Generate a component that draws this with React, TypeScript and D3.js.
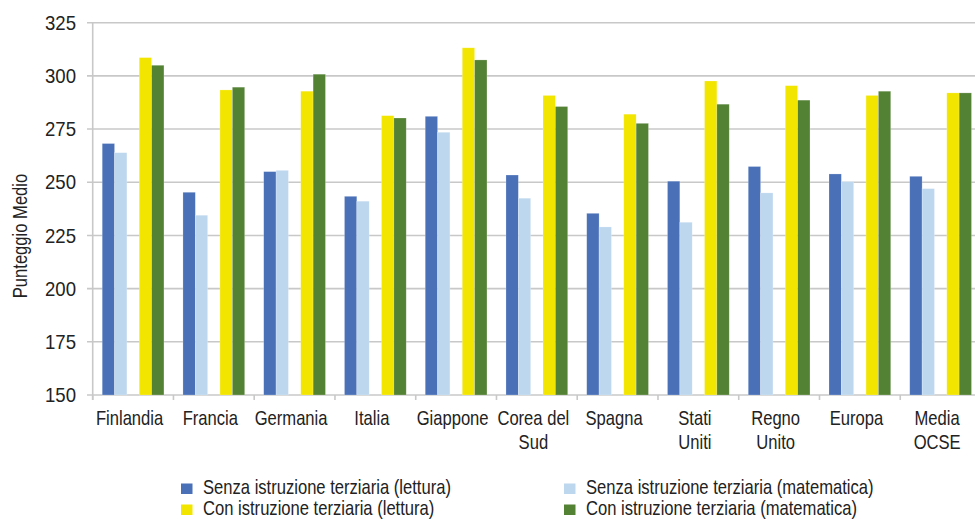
import React from "react";
import * as d3 from "d3";

const categories: string[][] = [
  ["Finlandia"], ["Francia"], ["Germania"], ["Italia"], ["Giappone"],
  ["Corea del", "Sud"], ["Spagna"], ["Stati", "Uniti"], ["Regno", "Unito"], ["Europa"], ["Media", "OCSE"],
];
const seriesNames = [
  "Senza istruzione terziaria (lettura)",
  "Senza istruzione terziaria (matematica)",
  "Con istruzione terziaria (lettura)",
  "Con istruzione terziaria (matematica)",
];
const senzaLettura = [268.2, 245.3, 255.0, 243.4, 281.0, 253.4, 235.4, 250.5, 257.4, 253.9, 252.8];
const senzaMatematica = [263.9, 234.5, 255.6, 241.1, 273.5, 242.5, 229.0, 231.2, 245.0, 250.3, 247.0];
const conLettura = [308.6, 293.4, 292.8, 281.3, 313.2, 290.8, 282.0, 297.6, 295.4, 290.8, 292.0];
const conMatematica = [305.0, 294.7, 300.8, 280.2, 307.5, 285.6, 277.7, 286.7, 288.6, 292.8, 292.0];
const yTicks = [150, 175, 200, 225, 250, 275, 300, 325];
const colors = ["#4A71B8", "#BDD7EE", "#F2E500", "#548235"];
const slotOf = [0, 1, 3, 4];

const FONT = "'Liberation Sans', Arial, sans-serif";
const FS = 20;
const SX = 0.83;

function CText(props: {
  x: number; y: number; anchor?: "start" | "middle" | "end"; sx?: number; rotate?: number; size?: number; children: React.ReactNode;
}) {
  const { x, y, anchor = "start", sx = SX, rotate = 0, size = FS, children } = props;
  return (
    <text
      transform={`translate(${x},${y}) rotate(${rotate}) scale(${sx},1)`}
      textAnchor={anchor}
      fontFamily={FONT}
      fontSize={size}
      fill="#222"
    >
      {children}
    </text>
  );
}

export default function App() {
  const W = 975, H = 519;
  const keys = categories.map((c) => c.join(" "));
  const x = d3.scaleBand<string>().domain(keys).range([92.7, 981]).padding(0);
  const sub = d3.scaleBand<number>().domain([0, 1, 2, 3, 4]).range([0, x.bandwidth()]).paddingInner(0).paddingOuter(0.77);
  const y = d3.scaleLinear().domain([150, 325]).range([395, 22.7]);
  const series = [senzaLettura, senzaMatematica, conLettura, conMatematica];
  const grid = "#C8C8C8";
  const boundaries = keys.map((k) => x(k)!).concat([x.range()[1]]);

  return (
    <svg width={W} height={H} style={{ position: "absolute", left: 0, top: 0, background: "#fff" }}>
      <rect x={0} y={0} width={W} height={H} fill="#fff" />
      {yTicks.map((t) => (
        <g key={t}>
          <line x1={87} x2={W} y1={y(t)} y2={y(t)} stroke={grid} strokeWidth={1.6} />
          <CText x={76} y={y(t) + 7.2} anchor="end" sx={0.93}>{t}</CText>
        </g>
      ))}
      <line x1={92.7} x2={92.7} y1={y(325)} y2={400} stroke={grid} strokeWidth={1.6} />
      {boundaries.map((b, i) => (
        <line key={i} x1={b} x2={b} y1={395} y2={400} stroke={grid} strokeWidth={1.6} />
      ))}
      {series.map((vals, si) =>
        vals.map((v, ci) => (
          <rect
            key={`${si}-${ci}`}
            x={x(keys[ci])! + sub(slotOf[si])!}
            y={y(v)}
            width={sub.bandwidth()}
            height={y(150) - y(v)}
            fill={colors[si]}
            stroke="rgba(255,255,255,0.35)"
            strokeWidth={0.6}
          />
        ))
      )}
      {categories.map((lines, ci) =>
        lines.map((l, li) => (
          <CText key={`${ci}-${li}`} x={x(keys[ci])! + x.bandwidth() / 2 - 3.5} y={425 + li * 23.5} anchor="middle">
            {l}
          </CText>
        ))
      )}
      <CText x={26.5} y={236} anchor="middle" rotate={-90}>Punteggio Medio</CText>
      {seriesNames.map((name, i) => {
        const col = i % 2;
        const row = i < 2 ? 0 : 1;
        const lx = col === 0 ? 181 : 564;
        const ly = row === 0 ? 483.5 : 504.5;
        return (
          <g key={name}>
            <rect x={lx} y={ly} width={11.5} height={10.5} fill={colors[i]} />
            <CText x={lx + 22} y={ly + 10.8}>{name}</CText>
          </g>
        );
      })}
    </svg>
  );
}
